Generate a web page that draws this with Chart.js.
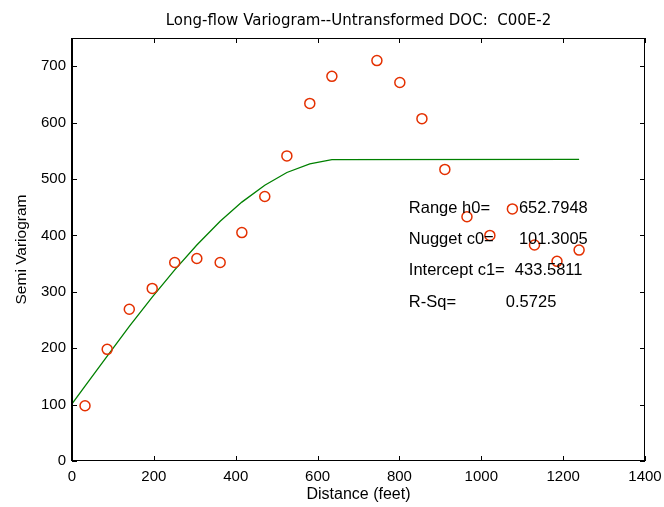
<!DOCTYPE html>
<html><head><meta charset="utf-8">
<script src="https://cdn.jsdelivr.net/npm/chart.js@4/dist/chart.umd.min.js"></script>
<style>html,body{margin:0;padding:0;background:#fff;}#wrap{width:664px;height:507px;}</style>
</head><body><div id="wrap"><canvas id="c" width="664" height="507"></canvas></div>
<script>
// ---- data ----
const lagDistance = [31.8, 86, 140, 196, 251, 305, 362, 415, 471, 525, 581, 635, 745, 801, 855, 911, 965, 1021, 1076, 1130, 1185, 1239];
const semiVariance = [98, 198, 269, 306, 352, 359, 352, 405, 469, 541, 634, 682, 710, 671, 607, 517, 433, 400, 447, 383, 354, 374];
const modelDistance = [0, 31.8, 86, 140, 196, 251, 305, 362, 415, 471, 525, 581, 635, 1239];
const modelVariance = [101.3, 132.9, 186, 238.7, 290.7, 339, 383, 425, 459, 489, 511.5, 527, 534.5, 534.9];
const baselineDistance = [0, 1239];
const baselineValue = [0, 0];
const xTicks = [0, 200, 400, 600, 800, 1000, 1200, 1400];
const yTicks = [0, 100, 200, 300, 400, 500, 600, 700];
const statLabels = ['Range h0=', 'Nugget c0=', 'Intercept c1=', 'R-Sq='];
const statValues = ['652.7948', '101.3005', '433.5811', '0.5725'];

// ---- annotation placement (data coordinates) ----
const statLabelX = 823;
const statValueX = [1092, 1092, 1082, 1060];
const statY = [447, 393, 338, 281];

const FONT = '"Liberation Sans", Arial, Helvetica, sans-serif';

const toXY = (xs, ys) => xs.map((x, i) => ({x: x, y: ys[i]}));

const boxPlugin = {
  id: 'box',
  afterDatasetsDraw(chart) {
    const {ctx, chartArea: a, scales} = chart;
    ctx.save();
    ctx.strokeStyle = '#000';
    ctx.lineWidth = 1;
    ctx.strokeRect(a.left + 0.5, a.top + 0.5, a.right - a.left - 1, a.bottom - a.top - 1);
    // slightly heavier left axis line as in the reference
    ctx.beginPath();
    ctx.moveTo(a.left - 0.5, a.top); ctx.lineTo(a.left - 0.5, a.bottom);
    ctx.stroke();
    const tl = 5;
    ctx.beginPath();
    scales.x.ticks.forEach(t => {
      const px = Math.round(scales.x.getPixelForValue(t.value)) + 0.5;
      ctx.moveTo(px, a.bottom); ctx.lineTo(px, a.bottom - tl);
      ctx.moveTo(px, a.top); ctx.lineTo(px, a.top + tl);
    });
    scales.y.ticks.forEach(t => {
      const py = Math.round(scales.y.getPixelForValue(t.value)) + 0.5;
      ctx.moveTo(a.left, py); ctx.lineTo(a.left + tl, py);
      ctx.moveTo(a.right, py); ctx.lineTo(a.right - tl, py);
    });
    ctx.stroke();
    // statistics text
    ctx.fillStyle = '#000';
    ctx.font = '16.5px ' + FONT;
    ctx.textBaseline = 'middle';
    ctx.textAlign = 'left';
    statLabels.forEach((s, i) => {
      const py = scales.y.getPixelForValue(statY[i]);
      ctx.fillText(s, scales.x.getPixelForValue(statLabelX), py);
      ctx.fillText(statValues[i], scales.x.getPixelForValue(statValueX[i]), py);
    });
    ctx.restore();
  }
};

new Chart(document.getElementById('c'), {
  type: 'scatter',
  data: {
    datasets: [
      {
        label: 'Baseline',
        data: toXY(baselineDistance, baselineValue),
        showLine: true, borderColor: 'rgb(10,10,200)', borderWidth: 2,
        pointRadius: 0, fill: false, order: 3
      },
      {
        label: 'Spherical model',
        data: toXY(modelDistance, modelVariance),
        showLine: true, borderColor: 'rgb(0,128,0)', borderWidth: 1.3,
        pointRadius: 0, fill: false, tension: 0, order: 2
      },
      {
        label: 'Semi variogram',
        data: toXY(lagDistance, semiVariance),
        showLine: false, pointStyle: 'circle', pointRadius: 5,
        pointBorderColor: 'rgb(228,48,0)', pointBackgroundColor: 'rgba(0,0,0,0)',
        pointBorderWidth: 1.5, order: 1
      }
    ]
  },
  options: {
    responsive: false, animation: false, devicePixelRatio: 1,
    layout: {padding: {top: 0, right: 19, bottom: 0, left: 0}},
    plugins: {
      legend: {display: false}, tooltip: {enabled: false},
      title: {
        display: true, fullSize: false,
        text: 'Long-flow Variogram--Untransformed DOC:  C00E-2',
        color: '#000', font: {family: '"DejaVu Sans", sans-serif', size: 15, weight: 'normal', lineHeight: 1.2},
        padding: {top: 12, bottom: 8}
      }
    },
    scales: {
      x: {
        type: 'linear', min: 0, max: 1400,
        afterBuildTicks: s => { s.ticks = xTicks.map(v => ({value: v})); },
        afterFit: s => { s.height = 46; s.paddingLeft = 0; s.paddingRight = 0; },
        grid: {display: false, drawTicks: false},
        border: {display: false},
        ticks: {color: '#000', font: {family: FONT, size: 15}, padding: 7, maxRotation: 0, autoSkip: false,
                callback: v => String(v)},
        title: {display: true, text: 'Distance (feet)', color: '#000', font: {family: FONT, size: 16}, padding: {top: 0, bottom: 3}}
      },
      y: {
        type: 'linear', min: 0, max: 750,
        afterBuildTicks: s => { s.ticks = yTicks.map(v => ({value: v})); },
        afterFit: s => { s.width = 72; s.paddingTop = 0; s.paddingBottom = 0; },
        grid: {display: false, drawTicks: false},
        border: {display: false},
        ticks: {color: '#000', font: {family: FONT, size: 15}, padding: 6, autoSkip: false,
                callback: v => String(v)},
        title: {display: true, text: 'Semi Variogram', color: '#000', font: {family: FONT, size: 15.5}, padding: {top: 12, bottom: 0}}
      }
    }
  },
  plugins: [boxPlugin]
});
</script>
</body></html>
